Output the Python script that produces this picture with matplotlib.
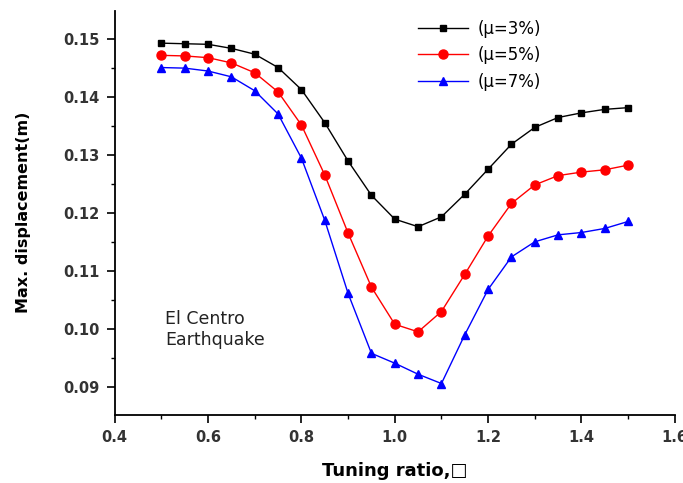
import numpy as np
import matplotlib.pyplot as plt
from matplotlib.ticker import MultipleLocator

plt.rcParams['font.family'] = ['DejaVu Sans']

# tuning ratio and peak displacement for each mass ratio
tuning = [0.50, 0.55, 0.60, 0.65, 0.70, 0.75, 0.80, 0.85, 0.90, 0.95, 1.00,
          1.05, 1.10, 1.15, 1.20, 1.25, 1.30, 1.35, 1.40, 1.45, 1.50]
disp_mu3 = [0.1492, 0.1491, 0.1490, 0.1483, 0.1473, 0.1450, 0.1412, 0.1355,
            0.1289, 0.1230, 0.1189, 0.1176, 0.1193, 0.1232, 0.1275, 0.1318,
            0.1347, 0.1364, 0.1372, 0.1378, 0.1381]
disp_mu5 = [0.1471, 0.1470, 0.1467, 0.1458, 0.1441, 0.1408, 0.1351, 0.1265,
            0.1165, 0.1072, 0.1008, 0.0995, 0.1030, 0.1094, 0.1160, 0.1216,
            0.1248, 0.1264, 0.1270, 0.1274, 0.1282]
disp_mu7 = [0.1450, 0.1449, 0.1444, 0.1434, 0.1410, 0.1370, 0.1294, 0.1187,
            0.1061, 0.0958, 0.0941, 0.0922, 0.0906, 0.0990, 0.1068, 0.1124,
            0.1150, 0.1162, 0.1166, 0.1173, 0.1185]
labels = ['(\u03bc=3%)', '(\u03bc=5%)', '(\u03bc=7%)']

fig = plt.figure(figsize=(6.83, 4.83), dpi=100)
ax = fig.add_axes([0.168, 0.141, 0.820, 0.837])

ax.plot(tuning, disp_mu3, color='black', marker='s', markersize=4, lw=1.0, label=labels[0])
ax.plot(tuning, disp_mu5, color='red', marker='o', markersize=6.5, lw=1.0, label=labels[1])
ax.plot(tuning, disp_mu7, color='blue', marker='^', markersize=6, lw=1.0, label=labels[2])

ax.set_xlim(0.4, 1.6)
ax.set_ylim(0.0852, 0.1548)
ax.xaxis.set_major_locator(MultipleLocator(0.2))
ax.xaxis.set_minor_locator(MultipleLocator(0.1))
ax.yaxis.set_major_locator(MultipleLocator(0.01))
ax.yaxis.set_minor_locator(MultipleLocator(0.005))
ax.xaxis.set_major_formatter(plt.FuncFormatter(lambda v, p: '%.1f' % v))
ax.yaxis.set_major_formatter(plt.FuncFormatter(lambda v, p: '%.2f' % v))

for side in ['top', 'right']:
    ax.spines[side].set_visible(False)
for side in ['left', 'bottom']:
    ax.spines[side].set_linewidth(1.3)
ax.tick_params(which='major', direction='out', length=6, width=1.2, labelsize=10.5,
               labelcolor='#333333', pad=5)
ax.tick_params(which='minor', direction='out', length=3, width=1.0)
for lbl in ax.get_xticklabels() + ax.get_yticklabels():
    lbl.set_fontweight('bold')

ax.set_xlabel('Tuning ratio,\u25a1', fontsize=13, fontweight='bold', labelpad=12)
ax.set_ylabel('Max. displacement(m)', fontsize=11.5, fontweight='bold', labelpad=23)

ax.text(0.508, 0.0999, 'El Centro\nEarthquake', fontsize=12.5, color='#222222',
        va='center', ha='left', linespacing=1.2)

ax.legend(loc='upper left', bbox_to_anchor=(0.541, 0.977), frameon=False, fontsize=12,
          handlelength=3.0, handletextpad=0.6, labelspacing=0.5,
          borderpad=0, borderaxespad=0)

plt.savefig('out.png', dpi=100)
plt.close('all')
